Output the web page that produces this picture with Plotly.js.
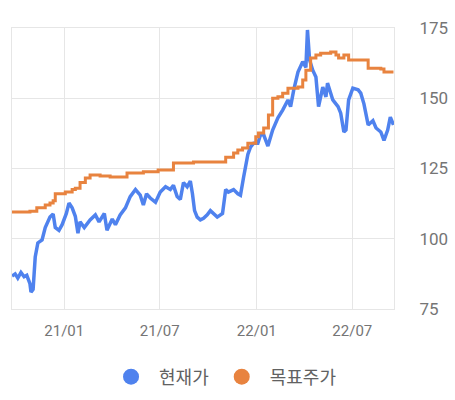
<!DOCTYPE html>
<html>
<head>
<meta charset="utf-8">
<script src="https://cdn.plot.ly/plotly-3.0.1.min.js"></script>
<style>html,body{margin:0;padding:0;background:#fff;}#chart{width:455px;height:400px;}</style>
</head>
<body>
<div id="chart"></div>
<script>
const priceDates = ["2020-09-24","2020-09-30","2020-10-05","2020-10-11","2020-10-17","2020-10-22","2020-10-28","2020-10-30","2020-11-03","2020-11-07","2020-11-12","2020-11-20","2020-11-26","2020-12-05","2020-12-11","2020-12-15","2020-12-22","2020-12-28","2021-01-05","2021-01-10","2021-01-16","2021-01-22","2021-01-27","2021-01-31","2021-02-08","2021-02-19","2021-03-01","2021-03-08","2021-03-18","2021-03-23","2021-04-02","2021-04-08","2021-04-17","2021-04-27","2021-05-06","2021-05-16","2021-05-25","2021-05-31","2021-06-06","2021-06-13","2021-06-23","2021-07-02","2021-07-12","2021-07-21","2021-07-27","2021-08-03","2021-08-09","2021-08-15","2021-08-22","2021-08-28","2021-09-01","2021-09-05","2021-09-10","2021-09-16","2021-09-22","2021-09-29","2021-10-05","2021-10-11","2021-10-18","2021-10-28","2021-11-03","2021-11-08","2021-11-18","2021-11-26","2021-12-01","2021-12-07","2021-12-15","2021-12-20","2021-12-26","2022-01-03","2022-01-08","2022-01-14","2022-01-22","2022-01-31","2022-02-10","2022-02-19","2022-03-01","2022-03-06","2022-03-12","2022-03-20","2022-03-29","2022-04-04","2022-04-07","2022-04-11","2022-04-17","2022-04-23","2022-04-28","2022-05-06","2022-05-12","2022-05-15","2022-05-25","2022-06-04","2022-06-09","2022-06-15","2022-06-19","2022-06-24","2022-07-02","2022-07-12","2022-07-17","2022-07-23","2022-07-31","2022-08-09","2022-08-15","2022-08-24","2022-08-30","2022-09-06","2022-09-11","2022-09-17"];
const priceValues = [86.7,87.5,86,88,86.5,87,84,81,82,93.5,98.5,99.6,104,107.7,108.8,104,103,105,109,112.7,111,108,102,106,104,106.7,108.5,106,109,103,107,105,108.5,111,115,117.5,115.5,112,116,114.5,113,116.6,118.5,117.5,119,115,114,120,118.5,120.5,116,110,107.7,106.7,107.3,108.5,110,109,107.7,109,117.5,116.6,117.5,116,115.5,122,130,132.6,134,134,137,137,133,138.7,143,145.8,149.4,147,153,159.3,163,161,174.3,163.6,160,157.6,147,154,150.5,155.4,149.4,147,144.7,138,138.7,149.4,153.6,153,151.8,148,140.5,142,139.4,138,135,138.7,143.3,140.5];

const targetDates = ["2020-09-24","2020-10-28","2020-11-10","2020-11-26","2020-12-05","2020-12-11","2020-12-15","2021-01-03","2021-01-16","2021-01-22","2021-01-31","2021-02-10","2021-02-19","2021-03-10","2021-03-29","2021-04-30","2021-05-31","2021-06-28","2021-07-21","2021-07-27","2021-09-03","2021-10-28","2021-11-03","2021-11-18","2021-11-26","2021-12-05","2021-12-15","2021-12-24","2021-12-30","2022-01-04","2022-01-14","2022-01-23","2022-01-31","2022-02-10","2022-02-19","2022-03-01","2022-03-10","2022-03-20","2022-03-29","2022-04-04","2022-04-13","2022-04-23","2022-05-02","2022-05-21","2022-05-31","2022-06-05","2022-06-15","2022-06-24","2022-07-27","2022-07-31","2022-08-24","2022-08-30","2022-09-17"];
const targetValues = [109.5,109.8,111,112,112.7,113.5,116,116.6,117.5,118,120,121.6,122.7,122.3,122,123.4,123.8,124.5,124.5,127,127.3,127.3,129,130.5,131.6,132.3,134,134,136.3,137.6,139.4,144,150,150.5,151.8,153.6,153.6,154,156.5,160,164.3,165.4,166,166.5,165.4,164.3,165.4,163.6,163.6,160.7,160.4,159.3,159.3];

const seriesNames = ["현재가","목표주가"];
const tickVals = ["2021-01-01","2021-07-01","2022-01-01","2022-07-01"];
const tickText = ["21/01","21/07","22/01","22/07"];
const yTicks = [75,100,125,150,175];

const BLUE = "#4F82EE", ORANGE = "#E8833F";
const traces = [
  {x: priceDates, y: priceValues, type: "scatter", mode: "lines", line: {color: BLUE, width: 3.5}, showlegend: false, hoverinfo: "skip"},
  {x: targetDates, y: targetValues, type: "scatter", mode: "lines", line: {color: ORANGE, width: 3, shape: "hv"}, showlegend: false, hoverinfo: "skip"},
  {x: [null], y: [null], type: "scatter", mode: "markers", name: seriesNames[0], marker: {color: BLUE, size: 18}},
  {x: [null], y: [null], type: "scatter", mode: "markers", name: seriesNames[1], marker: {color: ORANGE, size: 18}}
];
const layout = {
  width: 455, height: 400,
  margin: {l: 12, r: 61, t: 28, b: 91},
  paper_bgcolor: "#fff", plot_bgcolor: "#fff",
  font: {family: "Roboto, 'Noto Sans CJK KR', sans-serif", color: "#757575", size: 15},
  xaxis: {
    type: "date", range: ["2020-09-24", "2022-09-18"],
    tickvals: tickVals, ticktext: tickText, ticks: "",
    showgrid: true, gridcolor: "#e6e6e6", gridwidth: 1,
    showline: true, linecolor: "#e6e6e6", linewidth: 1, mirror: true,
    zeroline: false, tickfont: {size: 15, color: "#757575"}, ticklabelstandoff: 8
  },
  yaxis: {
    side: "right", range: [75, 175], tickvals: yTicks, ticks: "",
    showgrid: true, gridcolor: "#e6e6e6", gridwidth: 1,
    showline: true, linecolor: "#e6e6e6", linewidth: 1, mirror: true,
    zeroline: false, tickfont: {size: 17, color: "#757575"}, ticklabelstandoff: 21
  },
  showlegend: true,
  legend: {orientation: "h", xref: "container", x: 0.488, xanchor: "center", yref: "container", y: 0.0575, yanchor: "middle",
    font: {family: "'Noto Sans CJK KR', sans-serif", size: 18, color: "#616161"}, itemwidth: 46}
};
Plotly.newPlot("chart", traces, layout, {displayModeBar: false, staticPlot: true});
</script>
</body>
</html>
